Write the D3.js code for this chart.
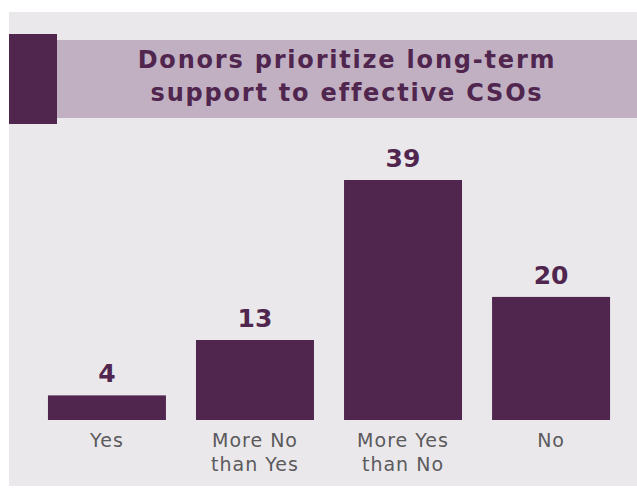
<!DOCTYPE html>
<html>
<head>
<meta charset="utf-8">
<script src="https://cdn.jsdelivr.net/npm/d3@7"></script>
<style>
  html, body { margin: 0; padding: 0; background: #ffffff; }
  svg { display: block; }
</style>
</head>
<body>
<div id="chart"></div>
<script>
// Survey answers and counts
const categories = ["Yes", "More No than Yes", "More Yes than No", "No"];
const categoryLines = [["Yes"], ["More No", "than Yes"], ["More Yes", "than No"], ["No"]];
const counts = [4, 13, 39, 20];
const titleLines = ["Donors prioritize long-term", "support to effective CSOs"];

const W = 637, H = 488;
const purple = "#50264f";
const panelFill = "#eae8eb";
const bandFill = "#c0b0c2";
const labelGrey = "#5b5a5c";
const fontFamily = "'DejaVu Sans', 'Open Sans', sans-serif";

const svg = d3.select("#chart").append("svg")
  .attr("width", W).attr("height", H);

// Grey card
svg.append("rect")
  .attr("x", 9).attr("y", 12)
  .attr("width", W - 9).attr("height", 474)
  .attr("fill", panelFill);

// Title band with dark accent block
svg.append("rect")
  .attr("x", 55).attr("y", 40)
  .attr("width", W - 55).attr("height", 78)
  .attr("fill", bandFill);
svg.append("rect")
  .attr("x", 9).attr("y", 34)
  .attr("width", 48).attr("height", 90)
  .attr("fill", purple);

const title = svg.append("text")
  .attr("text-anchor", "middle")
  .attr("font-family", fontFamily)
  .attr("font-weight", 700)
  .attr("font-size", 24)
  .attr("letter-spacing", 1.8)
  .attr("fill", purple);
titleLines.forEach((t, i) => {
  title.append("tspan")
    .attr("x", 347)
    .attr("y", 68 + i * 33)
    .text(t);
});

// Scales
const x = d3.scaleBand()
  .domain(categories)
  .range([33, 625])
  .paddingInner(0.203)
  .paddingOuter(0.101);

const y = d3.scaleLinear()
  .domain([0, 39])
  .range([420, 180]);

// Bars
svg.append("g").selectAll("rect")
  .data(categories)
  .join("rect")
  .attr("x", d => x(d))
  .attr("y", (d, i) => y(counts[i]))
  .attr("width", x.bandwidth())
  .attr("height", (d, i) => y(0) - y(counts[i]))
  .attr("fill", purple);

// Value labels
svg.append("g").selectAll("text")
  .data(categories)
  .join("text")
  .attr("x", d => x(d) + x.bandwidth() / 2)
  .attr("y", (d, i) => y(counts[i]) - 13)
  .attr("text-anchor", "middle")
  .attr("font-family", fontFamily)
  .attr("font-weight", 700)
  .attr("font-size", 25)
  .attr("fill", purple)
  .text((d, i) => counts[i]);

// Category labels via a bottom axis with the line-broken text
const axis = svg.append("g")
  .attr("transform", `translate(0,${y(0)})`)
  .call(d3.axisBottom(x).tickSize(0).tickFormat(""));
axis.select(".domain").remove();
axis.selectAll(".tick").each(function(d, i) {
  const t = d3.select(this).append("text")
    .attr("text-anchor", "middle")
    .attr("font-family", fontFamily)
    .attr("font-size", 19)
    .attr("letter-spacing", 1)
    .attr("fill", labelGrey);
  categoryLines[i].forEach((line, j) => {
    t.append("tspan").attr("x", 0).attr("y", 27 + j * 24).text(line);
  });
});
</script>
</body>
</html>
